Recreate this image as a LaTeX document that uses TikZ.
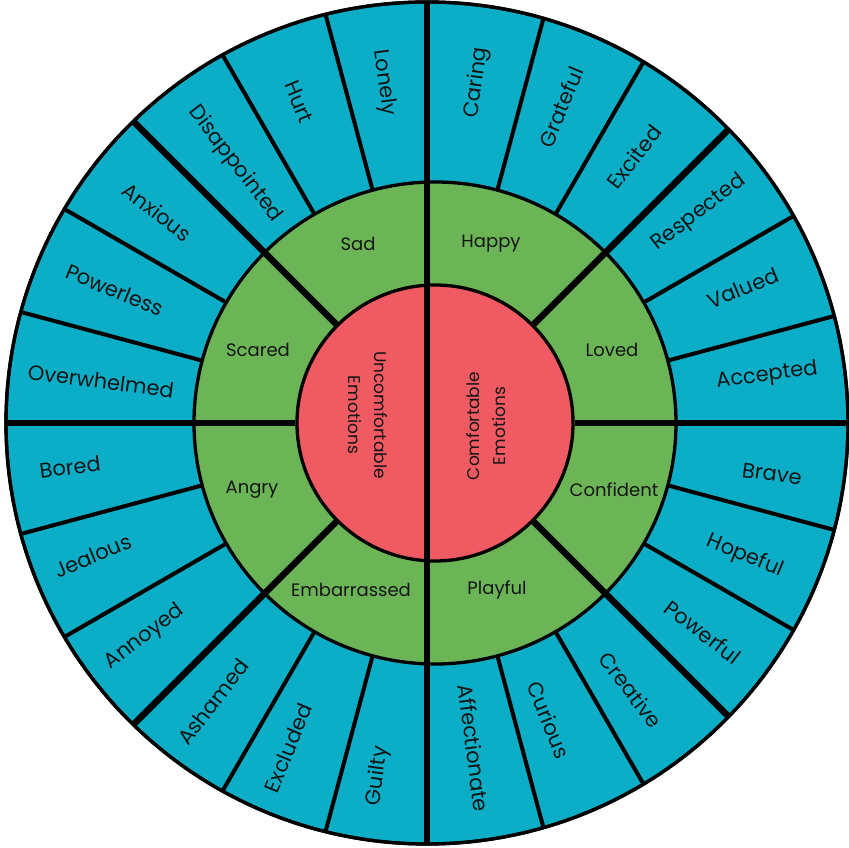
\documentclass[tikz,border=0pt]{standalone}
\usepackage{fontspec}
\setmainfont{Poppins}
\usetikzlibrary{calc}
\definecolor{teal}{HTML}{0CAEC7}
\definecolor{grn}{HTML}{6BB556}
\definecolor{rd}{HTML}{F05A63}
\definecolor{ink}{HTML}{151515}
\tikzset{
  ring/.style={circle, draw=black, line width=3.3pt, inner sep=0pt},
  thinsep/.style={draw=black, line width=4pt},
  thicksep/.style={draw=black, line width=6.5pt},
  outerlbl/.style={text=ink, font=\fontsize{21}{25}\selectfont, inner sep=0pt},
  midlbl/.style={text=ink, font=\fontsize{18}{21}\selectfont, inner sep=0pt},
  corelbl/.style={text=ink, font=\fontsize{17}{26}\selectfont, align=center, inner sep=0pt},
}
\begin{document}
\begin{tikzpicture}[x=1pt,y=1pt]
\useasboundingbox (0,0) rectangle (849,848);
\coordinate (O) at (427,425);
\coordinate (C) at (435,425);
\node[ring, fill=teal, minimum size=842pt] (outer) at (O) {};
\node[ring, fill=grn, minimum size=482pt] (mid) at (C) {};
\node[ring, fill=rd, minimum size=276pt] (core) at (C) {};
\begin{scope}
\clip (O) circle (421);
\foreach \a in {15,30,60,75,105,120,150,165,195,210,240,255,285,300,330,345}
  \draw[thinsep] ($(C)+(\a:241)$) -- ($(C)+(\a:440)$);
\foreach \a in {45,135,225,315}
  \draw[thicksep] ($(C)+(\a:138)$) -- ($(C)+(\a:440)$);
\draw[thicksep] (427,0) -- (427,848);
\draw[thicksep] (0,425) -- (core.west);
\draw[thicksep] (core.east) -- (849,425);
\end{scope}
\draw[black, line width=3.3pt] (O) circle (421);
% outer labels
\node[outerlbl, rotate=82.5] (l1) at (477,765) {Caring};
\node[outerlbl, rotate=67.5] (l2) at (561,741) {Grateful};
\node[outerlbl, rotate=52.5] (l3) at (634,691) {Excited};
\node[outerlbl, rotate=37.5] (l4) at (699,635) {Respected};
\node[outerlbl, rotate=22.5] (l5) at (743,560) {Valued};
\node[outerlbl, rotate=7.5] (l6) at (767,472) {Accepted};
\node[outerlbl, rotate=-7.5] (l7) at (772,374) {Brave};
\node[outerlbl, rotate=-22.5] (l8) at (745,292) {Hopeful};
\node[outerlbl, rotate=-37.5] (l9) at (703,216) {Powerful};
\node[outerlbl, rotate=-52.5] (l10) at (631,158) {Creative};
\node[outerlbl, rotate=-67.5] (l11) at (549,128) {Curious};
\node[outerlbl, rotate=-82.5] (l12) at (474,100) {Affectionate};
\node[outerlbl, rotate=82.5] (l13) at (378,72) {Guilty};
\node[outerlbl, rotate=67.5] (l14) at (288,100) {Excluded};
\node[outerlbl, rotate=52.5] (l15) at (213,146) {Ashamed};
\node[outerlbl, rotate=37.5] (l16) at (145,211) {Annoyed};
\node[outerlbl, rotate=22.5] (l17) at (93,292) {Jealous};
\node[outerlbl, rotate=7.5] (l18) at (70,381) {Bored};
\node[outerlbl, rotate=-7.5] (l19) at (101,467) {Overwhelmed};
\node[outerlbl, rotate=-22.5] (l20) at (115,558) {Powerless};
\node[outerlbl, rotate=-37.5] (l21) at (157,636) {Anxious};
\node[outerlbl, rotate=-52.5] (l22) at (235,684) {Disappointed};
\node[outerlbl, rotate=-67.5] (l23) at (299,746) {Hurt};
\node[outerlbl, rotate=-82.5] (l24) at (384,765) {Lonely};
% middle labels
\node[midlbl] (m1) at (358,604) {Sad};
\node[midlbl] (m2) at (491,604) {Happy};
\node[midlbl] (m3) at (258,498) {Scared};
\node[midlbl] (m4) at (612,498) {Loved};
\node[midlbl] (m5) at (252,358) {Angry};
\node[midlbl] (m6) at (614,358) {Confident};
\node[midlbl] (m7) at (351,258) {Embarrassed};
\node[midlbl] (m8) at (497,258) {Playful};
% core labels
\node[corelbl, rotate=-90] (c1) at (368,433) {Uncomfortable\\Emotions};
\node[corelbl, rotate=90] (c2) at (486,422) {Comfortable\\Emotions};
\end{tikzpicture}
\end{document}
